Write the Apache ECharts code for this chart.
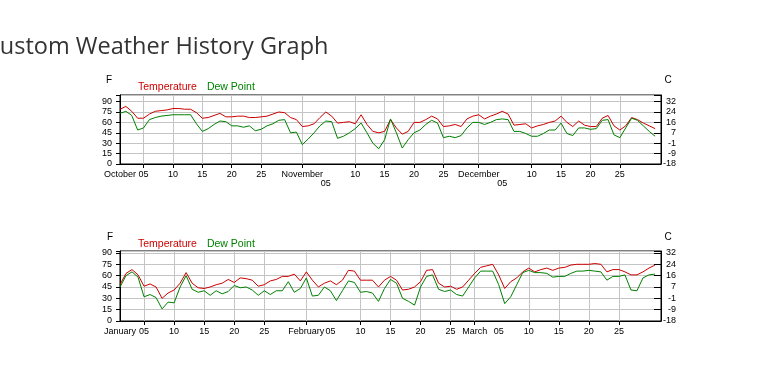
<!DOCTYPE html>
<html><head><meta charset="utf-8">
<script src="https://cdn.jsdelivr.net/npm/echarts@6/dist/echarts.min.js"></script>
<style>html,body{margin:0;padding:0;background:#fff}#c{width:774px;height:378px}</style>
</head><body><div id="c"></div>
<script>
// ---- data ----
const topMonths = ['October', 'November', 'December'];
const topMonthDays = [31, 30, 31];
const topNextMonth = 'January';
const bottomMonths = ['January', 'February', 'March'];
const bottomMonthDays = [31, 28, 31];
const bottomNextMonth = 'April';
const lowFiveTop = ['November', 'December'];
const lowFiveBottom = [];
const yTicksF = [0, 15, 30, 45, 60, 75, 90];

const topTemp = [79,83,76,66,66,72,76,77,78,80,
                 80,79,79,74,66,67,70,73,68,68,
                 69,69,67,67,68,69,72,75,74,67,
                 64,54,55,58,67,75,69,59,60,61,
                 58,71,57,47,45,47,64,52,43,47,
                 60,60,64,69,65,54,55,57,54,65,
                 69,71,65,69,72,76,72,56,57,58,
                 52,55,57,60,62,69,60,54,62,56,
                 54,54,66,70,55,49,55,67,64,59,
                 55,51];
const topDew = [73,76,70,49,52,64,67,69,70,71,
                71,71,71,58,47,51,57,62,61,55,
                55,53,55,48,50,55,58,63,64,45,
                46,28,36,45,55,62,61,37,40,45,
                51,59,45,30,22,35,65,45,23,35,
                45,49,57,63,59,38,40,38,41,52,
                60,60,57,60,64,65,64,47,47,44,
                40,40,44,49,49,59,44,41,52,52,
                50,51,63,64,42,38,52,66,63,55,
                47,40];
const bottomTemp = [48,63,68,61,46,49,45,30,37,41,
                    50,64,50,44,43,45,48,50,55,51,
                    57,56,54,46,48,53,55,59,59,62,
                    53,65,54,45,50,53,48,54,67,66,
                    54,54,54,45,54,59,54,41,42,45,
                    52,67,68,50,45,46,42,45,54,63,
                    71,73,75,61,43,52,57,65,70,65,
                    68,70,67,70,71,74,75,75,75,76,
                    75,65,68,68,65,61,61,65,70,74];
const bottomDew = [45,60,65,58,32,35,31,16,25,24,
                   45,60,42,38,40,34,40,36,39,47,
                   44,45,41,34,40,35,40,40,52,38,
                   43,57,33,34,45,40,27,40,53,51,
                   38,39,37,26,43,55,50,30,26,21,
                   45,59,61,42,39,41,35,33,45,57,
                   66,66,66,48,23,32,48,64,67,64,
                   64,63,58,59,59,63,66,66,67,66,
                   65,54,59,59,61,41,40,57,61,62];

// ---- helpers ----
function buildCats(months, days, next) {
  const cats = [];
  months.forEach((m, i) => { for (let d = 1; d <= days[i]; d++) cats.push(m + ' ' + d); });
  cats.push(next + ' 1');
  return cats;
}
const topCats = buildCats(topMonths, topMonthDays, topNextMonth);
const bottomCats = buildCats(bottomMonths, bottomMonthDays, bottomNextMonth);

const AX_FONT = '"Liberation Sans", Arial, sans-serif';
const TXT_FONT = '"Liberation Sans", Arial, sans-serif';
const AX_SIZE = 9;
const RED = '#cc0000', GREEN = '#008000';

function gridFn(months, total) {
  return (idx, val) => {
    const parts = val.split(' '); const m = parts[0]; const day = +parts[1];
    if (idx === 0 || idx >= total - 1) return false;
    if (day === 1) return true;
    if (day === 5) return m === months[0];
    return day === 10 || day === 15 || day === 20 || day === 25;
  };
}
function labelFn(total) {
  return (idx, val) => {
    if (idx >= total - 1) return false;
    const day = +val.split(' ')[1];
    return [1, 5, 10, 15, 20, 25].includes(day);
  };
}
function labelFmt(low) {
  return (val) => {
    const parts = val.split(' '); const m = parts[0]; const day = +parts[1];
    if (day === 1) return m;
    if (day === 5) return low.includes(m) ? '{low|05}' : '05';
    return String(day);
  };
}
function xAxis(gi, cats, months, low) {
  return {
    gridIndex: gi, type: 'category', data: cats, boundaryGap: false,
    axisLine: { show: true, lineStyle: { color: '#000', width: 1 } },
    axisTick: { show: true, length: 4, interval: gridFn(months, cats.length), lineStyle: { color: '#000' } },
    splitLine: { show: true, interval: gridFn(months, cats.length), lineStyle: { color: '#c4c4c4', width: 1 } },
    axisLabel: {
      interval: labelFn(cats.length), formatter: labelFmt(low), margin: 6,
      color: '#000', fontSize: AX_SIZE, fontFamily: AX_FONT,
      rich: { low: { padding: [9, 0, 0, 0], color: '#000', fontSize: AX_SIZE, fontFamily: AX_FONT } }
    }
  };
}
function yLeft(gi, max) {
  return {
    gridIndex: gi, type: 'value', min: 0, max: max, interval: 15, position: 'left',
    axisLine: { show: true, lineStyle: { color: '#000' } },
    axisTick: { show: true, length: 4, lineStyle: { color: '#000' } },
    splitLine: { show: true, lineStyle: { color: '#c4c4c4', width: 1 } },
    axisLabel: { formatter: v => yTicksF.includes(v) ? String(v) : '', margin: 8,
      color: '#000', fontSize: AX_SIZE, fontFamily: AX_FONT }
  };
}
function yRight(gi, max) {
  return {
    gridIndex: gi, type: 'value', min: 0, max: max, interval: 15, position: 'right',
    axisLine: { show: true, lineStyle: { color: '#000' } },
    axisTick: { show: true, inside: true, length: 7, lineStyle: { color: '#000' } },
    splitLine: { show: false },
    axisLabel: { formatter: v => yTicksF.includes(v) ? String(Math.round((v - 32) * 5 / 9)) : '',
      margin: 15, align: 'right', color: '#000', fontSize: AX_SIZE, fontFamily: AX_FONT }
  };
}
function line(name, data, color, xi, yi) {
  return { name: name, type: 'line', data: data, xAxisIndex: xi, yAxisIndex: yi,
    showSymbol: false, symbol: 'none', lineStyle: { color: color, width: 1 }, itemStyle: { color: color } };
}
function legend(top) {
  return { left: 133, top: top, icon: 'none', itemWidth: 0, itemHeight: 0, itemGap: 5, padding: 0,
    selectedMode: false, itemStyle: { opacity: 0 }, lineStyle: { opacity: 0 },
    textStyle: { fontSize: 10.5, fontFamily: TXT_FONT },
    data: [{ name: 'Temperature', textStyle: { color: RED } }, { name: 'Dew Point', textStyle: { color: GREEN } }] };
}
function txt(t, x, y) {
  return { type: 'text', x: x, y: y, silent: true,
    style: { text: t, fill: '#000', font: '10px ' + TXT_FONT, textAlign: 'center', textVerticalAlign: 'middle' } };
}

const chart = echarts.init(document.getElementById('c'), null, { renderer: 'canvas' });
chart.setOption({
  animation: false,
  backgroundColor: '#fff',
  title: { text: 'Custom Weather History Graph', left: -15, top: 35, padding: 0,
    textStyle: { fontSize: 23.5, fontWeight: 'normal', fontFamily: '"Open Sans", sans-serif', color: '#333' } },
  legend: [legend(82), legend(239)],
  grid: [
    { left: 120, right: 113, top: 95, bottom: 214, show: true, borderColor: '#000', borderWidth: 1, backgroundColor: '#fff' },
    { left: 120, right: 113, top: 251, bottom: 57, show: true, borderColor: '#000', borderWidth: 1, backgroundColor: '#fff' }
  ],
  xAxis: [xAxis(0, topCats, topMonths, lowFiveTop), xAxis(1, bottomCats, bottomMonths, lowFiveBottom)],
  yAxis: [yLeft(0, 99.5), yRight(0, 99.5), yLeft(1, 92.6), yRight(1, 92.6)],
  series: [
    line('Temperature', topTemp, RED, 0, 0),
    line('Dew Point', topDew, GREEN, 0, 0),
    line('Temperature', bottomTemp, RED, 1, 2),
    line('Dew Point', bottomDew, GREEN, 1, 2)
  ],
  graphic: [txt('F', 109, 80), txt('C', 668, 80), txt('F', 110, 237), txt('C', 668, 237)]
});
</script></body></html>
